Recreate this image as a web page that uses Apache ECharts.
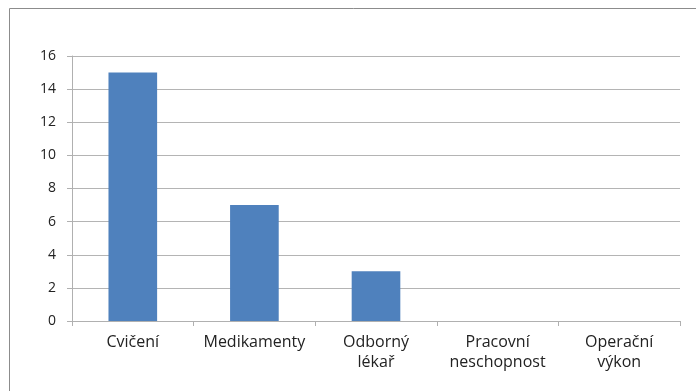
<!DOCTYPE html>
<html>
<head>
<meta charset="utf-8">
<script src="https://cdn.jsdelivr.net/npm/echarts@6/dist/echarts.min.js"></script>
<style>
  html, body { margin: 0; padding: 0; background: #fff; }
  #chart { width: 696px; height: 391px; }
</style>
</head>
<body>
<div id="chart"></div>
<script>
// kategorie a hodnoty
const categories = ["Cvičení", "Medikamenty", "Odborný\nlékař", "Pracovní\nneschopnost", "Operační\nvýkon"];
const values = [15, 7, 3, 0, 0];
const yTicks = { min: 0, max: 16, interval: 2 };

const chart = echarts.init(document.getElementById("chart"));
const option = {
  animation: false,
  textStyle: { fontFamily: "Open Sans, Liberation Sans, sans-serif" },
  // rámeček kolem grafu
  graphic: [
    {
      type: "rect",
      shape: { x: 9.5, y: 8.5, width: 720, height: 420 },
      style: { fill: "none", stroke: "#8c8c8c", lineWidth: 1 },
      silent: true
    }
  ],
  grid: { left: 72, right: 16, top: 56, bottom: 70 },
  xAxis: {
    type: "category",
    data: categories,
    axisLine: { lineStyle: { color: "#b0b0b0" } },
    axisTick: { show: true, length: 5, alignWithLabel: false, lineStyle: { color: "#b0b0b0" } },
    axisLabel: { color: "#222", fontSize: 16, lineHeight: 20, margin: 11, interval: 0 }
  },
  yAxis: {
    type: "value",
    min: yTicks.min,
    max: yTicks.max,
    interval: yTicks.interval,
    axisLine: { show: true, lineStyle: { color: "#b0b0b0" } },
    axisTick: { show: true, length: 5, lineStyle: { color: "#b0b0b0" } },
    axisLabel: { color: "#222", fontSize: 14, margin: 16 },
    splitLine: { show: true, lineStyle: { color: "#b4b4b4", width: 1 } }
  },
  series: [
    {
      type: "bar",
      data: values,
      barWidth: "40%",
      itemStyle: { color: "#4f81bd" }
    }
  ]
};
chart.setOption(option);
</script>
</body>
</html>
